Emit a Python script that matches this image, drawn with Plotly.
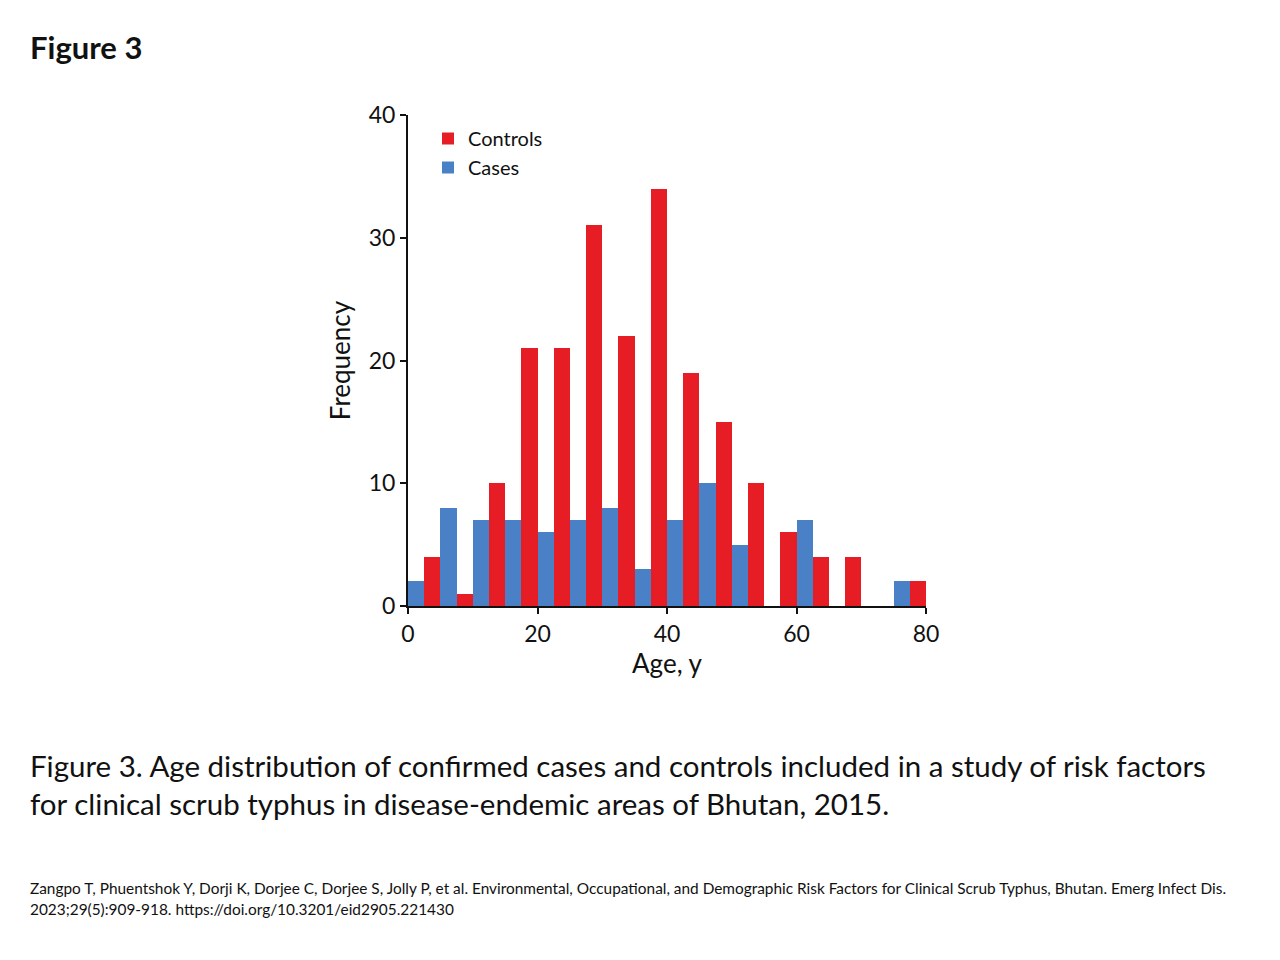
import plotly.graph_objects as go

bin_starts = [0, 5, 10, 15, 20, 25, 30, 35, 40, 45, 50, 55, 60, 65, 70, 75]
cases = [2, 8, 7, 7, 6, 7, 8, 3, 7, 10, 5, 0, 7, 0, 0, 2]
controls = [4, 1, 10, 21, 21, 31, 22, 34, 19, 15, 10, 6, 4, 4, 0, 2]
bin_width = 5
x_ticks = [0, 20, 40, 60, 80]
y_ticks = [0, 10, 20, 30, 40]

half = bin_width / 2
cases_x = [b + half / 2 for b in bin_starts]
controls_x = [b + half + half / 2 for b in bin_starts]

FONT = "Lato"
RED = "#E71D25"
BLUE = "#4A80C6"

fig = go.Figure()
fig.add_trace(go.Bar(x=controls_x, y=controls, width=half, name="Controls",
                     marker=dict(color=RED, line=dict(width=0))))
fig.add_trace(go.Bar(x=cases_x, y=cases, width=half, name="Cases",
                     marker=dict(color=BLUE, line=dict(width=0))))

OFF = 8  # page body margin
L, R, T, B = 408 - OFF, 926 - OFF, 115 - OFF, 606 - OFF
W, H = 1280, 960
pw, ph = R - L, B - T

def px(x):
    return (x - OFF - L) / pw

def py(y):
    return (B - (y - OFF)) / ph

fig.update_layout(
    width=W, height=H, autosize=False,
    margin=dict(l=L, r=W - R, t=T, b=H - B, pad=0),
    paper_bgcolor="white", plot_bgcolor="white",
    barmode="overlay", bargap=0,
    font=dict(family=FONT, color="#111"),
    showlegend=True,
    legend=dict(x=px(428), y=py(119), xanchor="left", yanchor="top",
                font=dict(size=20, family=FONT, color="#111"),
                traceorder="normal", bgcolor="rgba(0,0,0,0)",
                itemsizing="constant", tracegroupgap=6),
    xaxis=dict(range=[0, 80], tickvals=x_ticks, showgrid=False, zeroline=False,
               showline=True, linecolor="#111", linewidth=2,
               ticks="outside", ticklen=6, tickwidth=2, tickcolor="#111",
               tickfont=dict(size=23, family=FONT, color="#111"),
               title=dict(text="Age, y", font=dict(size=26, family=FONT, color="#111"), standoff=8)),
    yaxis=dict(range=[0, 40], tickvals=y_ticks, showgrid=False, zeroline=False,
               showline=True, linecolor="#111", linewidth=2,
               ticks="outside", ticklen=6, tickwidth=2, tickcolor="#111",
               tickfont=dict(size=23, family=FONT, color="#111"),
               title=dict(text="Frequency", font=dict(size=26, family=FONT, color="#111"), standoff=11)),
)

annots = [
    dict(text="<b>Figure 3</b>", x=px(28), y=py(47), size=31),
    dict(text="Figure 3. Age distribution of confirmed cases and controls included in a study of risk factors",
         x=px(28), y=py(765), size=29.5),
    dict(text="for clinical scrub typhus in disease-endemic areas of Bhutan, 2015.",
         x=px(28), y=py(803), size=29.5),
    dict(text="Zangpo T, Phuentshok Y, Dorji K, Dorjee C, Dorjee S, Jolly P, et al. Environmental, Occupational, and Demographic Risk Factors for Clinical Scrub Typhus, Bhutan. Emerg Infect Dis.",
         x=px(28), y=py(888), size=15.4),
    dict(text="2023;29(5):909-918. https://doi.org/10.3201/eid2905.221430",
         x=px(28), y=py(909), size=15.4),
]
for a in annots:
    fig.add_annotation(text=a["text"], x=a["x"], y=a["y"], xref="paper", yref="paper",
                       xanchor="left", yanchor="middle", showarrow=False,
                       font=dict(size=a["size"], family=FONT, color="#111"))

fig.write_html("out.html")
